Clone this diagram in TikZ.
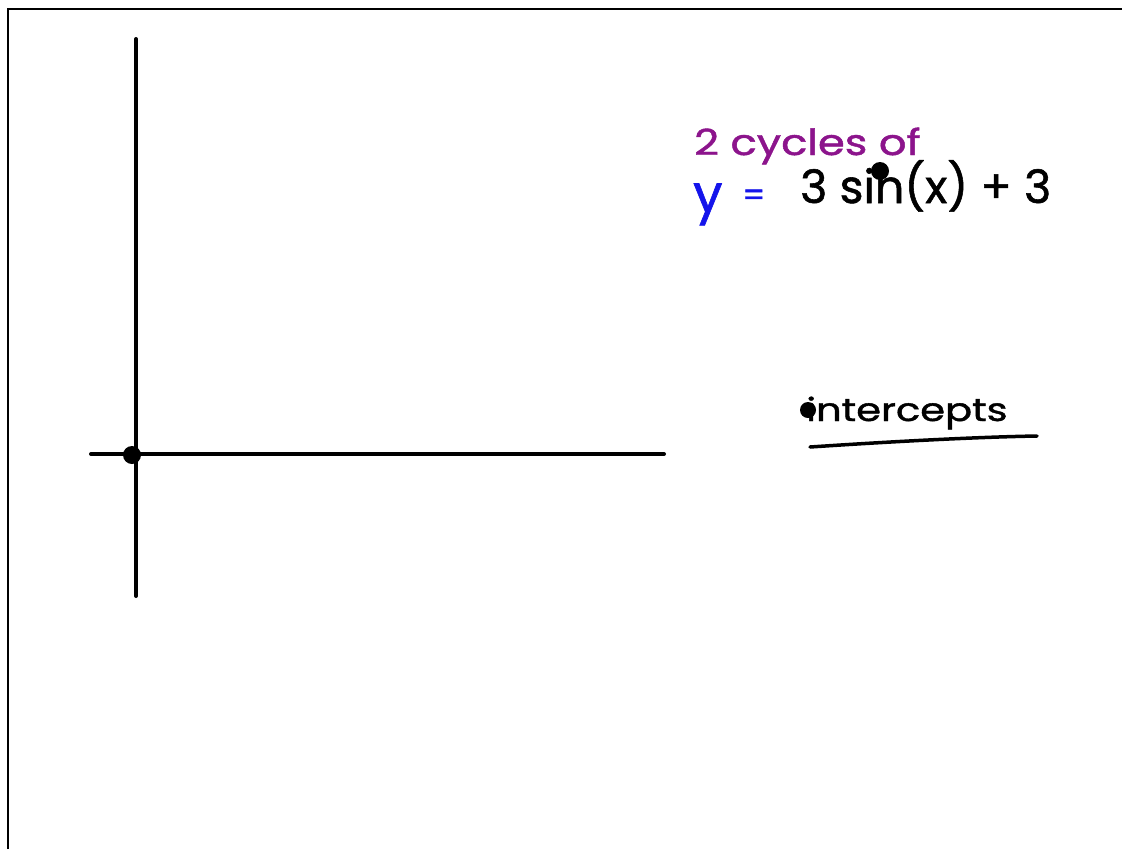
\documentclass[tikz,border=0pt]{standalone}
\usepackage{fontspec}
\setmainfont{Poppins}[FakeBold=1.2]
\definecolor{pencilpurple}{RGB}{140,20,140}
\definecolor{penblue}{RGB}{20,20,235}
\tikzset{
  frameline/.style={line width=2pt, black},
  axisline/.style={line width=4pt, black, line cap=round},
  pendot/.style={circle, fill=black, inner sep=0pt, minimum size=18pt},
  handtext/.style={inner sep=0pt, anchor=base west},
}
\begin{document}
\begin{tikzpicture}[x=1pt,y=-1pt]
\useasboundingbox (0,0) rectangle (1122,849);
\fill[white] (0,0) rectangle (1122,849);
% frame
\coordinate (fa) at (8,849);
\coordinate (fb) at (8,9);
\coordinate (fc) at (1122,9);
\draw[frameline] (fa) -- (fb) -- (fc);
% axes
\coordinate (yt) at (136,39);
\coordinate (yb) at (136,596);
\coordinate (xl) at (91,454);
\coordinate (xr) at (664,454);
\draw[axisline] (yt) -- (yb);
\draw[axisline] (xl) -- (xr);
\node[pendot] (origin) at (132,455) {};
% title
\node[handtext, text=pencilpurple, font=\fontsize{36}{42}\selectfont, xscale=1.2] (cyc) at (694,155) {2 cycles of};
\node[handtext, text=penblue, font=\fontsize{52}{60}\selectfont] (yy) at (693,212) {y};
\node[handtext, text=penblue, font=\fontsize{32}{38}\selectfont] (eq) at (742,206) {=};
\node[handtext, font=\fontsize{46}{54}\selectfont] (eqn) at (800,203) {3 sin(x) + 3};
\node[pendot] (sdot) at (880,171) {};
% intercepts
\node[handtext, font=\fontsize{32}{38}\selectfont, xscale=1.25] (icp) at (806,421) {intercepts};
\node[pendot, minimum size=16pt] (idot) at (808,410) {};
\coordinate (ula) at (810,447);
\coordinate (ulb) at (1037,436);
\draw[line width=3.5pt, line cap=round] (ula) .. controls (900,441) and (980,437) .. (ulb);
\end{tikzpicture}
\end{document}
